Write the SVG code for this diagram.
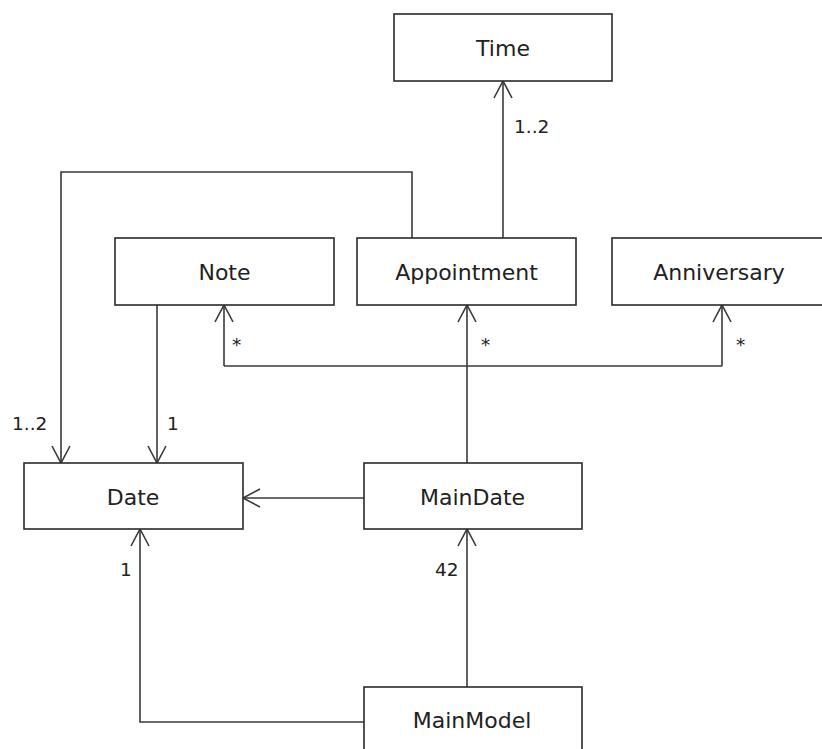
<svg xmlns="http://www.w3.org/2000/svg" width="822" height="749" viewBox="0 0 822 749">
<style>
.box{fill:#fff;stroke:#2a2a2a;stroke-width:1.6}
.name{font-family:"DejaVu Sans",sans-serif;font-size:22px;fill:#222;text-anchor:middle}
.mult{font-family:"DejaVu Sans",sans-serif;font-size:18.5px;fill:#222}
.conn{fill:none;stroke:#3a3a3a;stroke-width:1.6}
</style>
<defs>
<marker id="arr" viewBox="-19 -11 21 22" refX="0" refY="0" markerWidth="21" markerHeight="22" orient="auto" markerUnits="userSpaceOnUse">
<path d="M-17,-9 L0,0 L-17,9" fill="none" stroke="#3a3a3a" stroke-width="1.6"/>
</marker>
</defs>
<rect width="822" height="749" fill="#fff"/>
<g id="connectors">
<path class="conn" d="M503,238 V81" marker-end="url(#arr)"/>
<path class="conn" d="M412,238 V172 H61 V463" marker-end="url(#arr)"/>
<path class="conn" d="M157,305 V463" marker-end="url(#arr)"/>
<path class="conn" d="M467,463 V305" marker-end="url(#arr)"/>
<path class="conn" d="M224,366 H722"/>
<path class="conn" d="M224,366 V305" marker-end="url(#arr)"/>
<path class="conn" d="M722,366 V305" marker-end="url(#arr)"/>
<path class="conn" d="M364,498 H243" marker-end="url(#arr)"/>
<path class="conn" d="M467,687 V529" marker-end="url(#arr)"/>
<path class="conn" d="M364,722 H140 V529" marker-end="url(#arr)"/>
<text class="mult" x="514" y="133">1..2</text>
<text class="mult" x="12" y="430">1..2</text>
<text class="mult" x="167" y="430">1</text>
<text class="mult" x="232" y="351">*</text>
<text class="mult" x="481" y="351">*</text>
<text class="mult" x="736" y="351">*</text>
<text class="mult" x="120" y="576">1</text>
<text class="mult" x="435" y="576">42</text>
</g>
<g id="Time"><rect class="box" x="394" y="14" width="218" height="67"/><text class="name" x="503" y="56">Time</text></g>
<g id="Note"><rect class="box" x="115" y="238" width="219" height="67"/><text class="name" x="224.5" y="280">Note</text></g>
<g id="Appointment"><rect class="box" x="357" y="238" width="219" height="67"/><text class="name" x="466.5" y="280">Appointment</text></g>
<g id="Anniversary"><rect class="box" x="612" y="238" width="219" height="67"/><text class="name" x="719" y="280">Anniversary</text></g>
<g id="Date"><rect class="box" x="24" y="463" width="219" height="66"/><text class="name" x="133" y="504.5">Date</text></g>
<g id="MainDate"><rect class="box" x="364" y="463" width="218" height="66"/><text class="name" x="472.5" y="504.5">MainDate</text></g>
<g id="MainModel"><rect class="box" x="364" y="687" width="218" height="70"/><text class="name" x="472" y="727.5">MainModel</text></g>
</svg>
